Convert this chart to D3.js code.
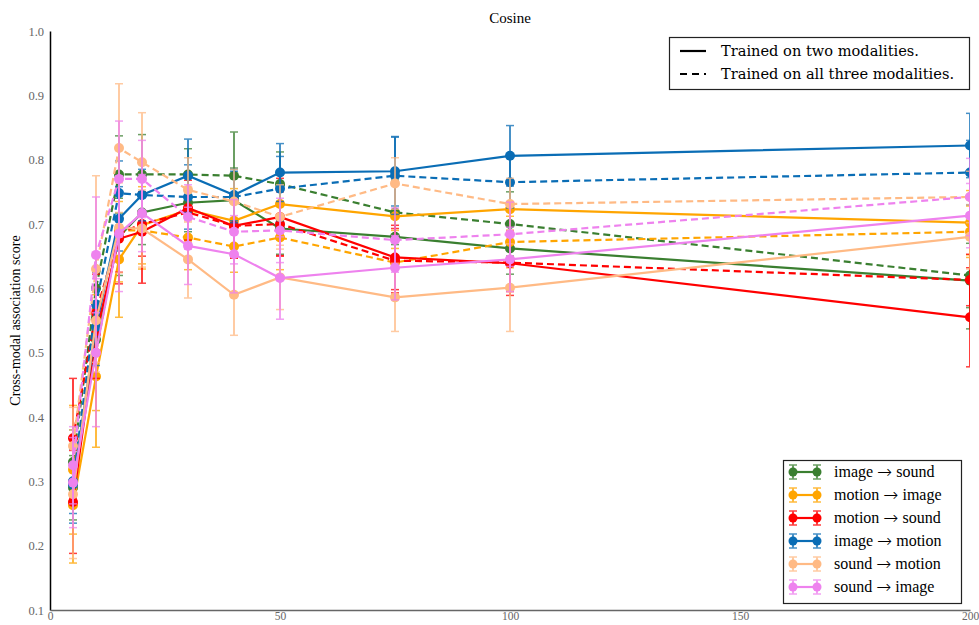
<!DOCTYPE html>
<html><head><meta charset="utf-8">
<script src="https://cdn.jsdelivr.net/npm/d3@7"></script>
<style>body{margin:0;background:#fff}svg{display:block}</style>
</head><body>
<svg id="c" width="979" height="625"></svg>
<script>
const xs = [5, 10, 15, 20, 30, 40, 50, 75, 100, 200];
const seriesFrom = ["image", "motion", "motion", "image", "sound", "sound"];
const seriesTo = ["sound", "image", "sound", "motion", "motion", "image"];
const seriesColors = ["#3a7f30", "#ffa500", "#ff0000", "#0a6db5", "#ffba85", "#ee82ee"];
// trained on two modalities (solid)
const imgSnd2 = [0.290, 0.520, 0.680, 0.718, 0.733, 0.737, 0.693, 0.680, 0.662, 0.612];
const motImg2 = [0.263, 0.463, 0.645, 0.698, 0.722, 0.705, 0.731, 0.712, 0.723, 0.702];
const motSnd2 = [0.268, 0.530, 0.677, 0.688, 0.725, 0.697, 0.711, 0.648, 0.639, 0.555];
const imgMot2 = [0.295, 0.540, 0.708, 0.745, 0.775, 0.745, 0.780, 0.782, 0.806, 0.822];
const sndMot2 = [0.280, 0.550, 0.694, 0.693, 0.645, 0.590, 0.617, 0.586, 0.601, 0.680];
const sndImg2 = [0.298, 0.500, 0.685, 0.717, 0.666, 0.653, 0.616, 0.632, 0.645, 0.713];
// trained on all three modalities (dashed)
const imgSnd3 = [0.330, 0.600, 0.777, 0.777, 0.777, 0.775, 0.762, 0.718, 0.700, 0.620];
const motImg3 = [0.318, 0.500, 0.690, 0.690, 0.679, 0.665, 0.679, 0.640, 0.672, 0.688];
const motSnd3 = [0.367, 0.562, 0.685, 0.700, 0.718, 0.697, 0.700, 0.643, 0.640, 0.613];
const imgMot3 = [0.300, 0.575, 0.748, 0.745, 0.742, 0.742, 0.755, 0.775, 0.765, 0.780];
const sndMot3 = [0.355, 0.630, 0.818, 0.796, 0.753, 0.735, 0.711, 0.763, 0.731, 0.742];
const sndImg3 = [0.325, 0.652, 0.770, 0.770, 0.711, 0.688, 0.690, 0.675, 0.684, 0.742];
// error bars (half-widths)
const imgSndE2 = [0.05, 0.06, 0.06, 0.05, 0.045, 0.05, 0.04, 0.04, 0.04, 0.075];
const motImgE2 = [0.09, 0.11, 0.09, 0.06, 0.05, 0.05, 0.045, 0.05, 0.04, 0.05];
const motSndE2 = [0.08, 0.07, 0.07, 0.08, 0.05, 0.05, 0.06, 0.05, 0.05, 0.077];
const imgMotE2 = [0.06, 0.06, 0.05, 0.04, 0.057, 0.04, 0.045, 0.054, 0.047, 0.05];
const sndMotE2 = [0.10, 0.08, 0.07, 0.06, 0.06, 0.063, 0.05, 0.053, 0.068, 0.05];
const sndImgE2 = [0.07, 0.115, 0.09, 0.06, 0.06, 0.06, 0.064, 0.05, 0.05, 0.05];
const imgSndE3 = [0.05, 0.05, 0.06, 0.062, 0.04, 0.068, 0.05, 0.05, 0.05, 0.05];
const motImgE3 = [0.10, 0.09, 0.08, 0.06, 0.05, 0.04, 0.05, 0.05, 0.04, 0.04];
const motSndE3 = [0.093, 0.06, 0.06, 0.05, 0.05, 0.05, 0.05, 0.05, 0.045, 0.04];
const imgMotE3 = [0.05, 0.05, 0.05, 0.05, 0.05, 0.04, 0.05, 0.06, 0.04, 0.05];
const sndMotE3 = [0.06, 0.145, 0.10, 0.077, 0.05, 0.05, 0.05, 0.04, 0.04, 0.04];
const sndImgE3 = [0.06, 0.09, 0.09, 0.06, 0.05, 0.05, 0.05, 0.05, 0.05, 0.06];
const xTicks = [0, 50, 100, 150, 200];
const yTicks = [0.1, 0.2, 0.3, 0.4, 0.5, 0.6, 0.7, 0.8, 0.9, 1.0];
const title = "Cosine";
const yLabel = "Cross-modal association score";
const styleLegend = ["Trained on two modalities.", "Trained on all three modalities."];

const two = [imgSnd2, motImg2, motSnd2, imgMot2, sndMot2, sndImg2];
const three = [imgSnd3, motImg3, motSnd3, imgMot3, sndMot3, sndImg3];
const twoE = [imgSndE2, motImgE2, motSndE2, imgMotE2, sndMotE2, sndImgE2];
const threeE = [imgSndE3, motImgE3, motSndE3, imgMotE3, sndMotE3, sndImgE3];

const svg = d3.select("#c");
const L = 50, R = 970, T = 31, B = 610;
const x = d3.scaleLinear().domain([0, 200]).range([L, R]);
const y = d3.scaleLinear().domain([0.1, 1.0]).range([B, T]);
const serif = "'Liberation Serif', 'DejaVu Serif', serif";

svg.append("defs").append("clipPath").attr("id", "clip")
  .append("rect").attr("x", L).attr("y", 0).attr("width", R - L).attr("height", B);

const plot = svg.append("g").attr("clip-path", "url(#clip)");

function drawSeries(vals, errs, color, dashed) {
  const pts = xs.map((xv, i) => ({x: xv, y: vals[i], e: errs[i]}));
  const g = plot.append("g");
  const eb = g.append("g").attr("opacity", 0.75).attr("stroke", color).attr("stroke-width", 2);
  pts.forEach(p => {
    const cx = x(p.x);
    eb.append("line").attr("x1", cx).attr("x2", cx).attr("y1", y(p.y - p.e)).attr("y2", y(p.y + p.e));
    [p.y - p.e, p.y + p.e].forEach(v => eb.append("line").attr("x1", cx - 4).attr("x2", cx + 4).attr("y1", y(v)).attr("y2", y(v)).attr("stroke-width", 1.5));
  });
  g.append("path").datum(pts)
    .attr("d", d3.line().x(d => x(d.x)).y(d => y(d.y)))
    .attr("fill", "none").attr("stroke", color).attr("stroke-width", 2.2)
    .attr("stroke-dasharray", dashed ? "7,4" : null);
  g.selectAll("circle").data(pts).join("circle")
    .attr("cx", d => x(d.x)).attr("cy", d => y(d.y)).attr("r", 5).attr("fill", color);
}
for (let s = 0; s < 6; s++) {
  drawSeries(two[s], twoE[s], seriesColors[s], false);
  drawSeries(three[s], threeE[s], seriesColors[s], true);
}

// axes
const yAxis = svg.append("g").attr("transform", `translate(${L},0)`)
  .call(d3.axisLeft(y).tickValues(yTicks).tickFormat(d3.format(".1f")).tickSize(0).tickPadding(6));
yAxis.select(".domain").attr("stroke", "#000").attr("stroke-width", 1.5);
yAxis.selectAll("text").attr("font-family", serif).attr("font-size", 12.5).attr("fill", "#666");
const xAxis = svg.append("g").attr("transform", `translate(0,${B})`)
  .call(d3.axisBottom(x).tickValues(xTicks).tickFormat(d3.format("d")).tickSize(0).tickPadding(2));
xAxis.select(".domain").attr("stroke", "#666").attr("stroke-width", 1.5);
xAxis.selectAll("text").attr("font-family", serif).attr("font-size", 11.5).attr("fill", "#666");

svg.append("text").attr("x", (L + R) / 2).attr("y", 23).attr("text-anchor", "middle")
  .attr("font-family", serif).attr("font-size", 15).text(title);
svg.append("text").attr("transform", `translate(20,${(T + B) / 2}) rotate(-90)`)
  .attr("text-anchor", "middle").attr("font-family", serif).attr("font-size", 14).text(yLabel);

// style legend
const lg1 = svg.append("g");
lg1.append("rect").attr("x", 669.5).attr("y", 37.5).attr("width", 300).attr("height", 52)
  .attr("fill", "#fff").attr("stroke", "#222").attr("stroke-width", 1.2);
styleLegend.forEach((t, i) => {
  const yy = 51 + i * 23;
  lg1.append("line").attr("x1", 680).attr("x2", 706).attr("y1", yy).attr("y2", yy)
    .attr("stroke", "#000").attr("stroke-width", 2.2).attr("stroke-dasharray", i ? "7,5" : null);
  lg1.append("text").attr("x", 721).attr("y", yy + 5).attr("font-family", "'DejaVu Serif', serif")
    .attr("font-size", 14.6).text(t);
});

// series legend
const lg2 = svg.append("g");
lg2.append("rect").attr("x", 783.5).attr("y", 460.5).attr("width", 178).attr("height", 143)
  .attr("fill", "#fff").attr("stroke", "#222").attr("stroke-width", 1.2);
seriesFrom.forEach((n, i) => {
  const yy = 472 + i * 23;
  const c = seriesColors[i];
  const g = lg2.append("g");
  g.append("line").attr("x1", 793).attr("x2", 817).attr("y1", yy).attr("y2", yy).attr("stroke", c).attr("stroke-width", 2.2);
  [793, 817].forEach(cx => {
    const eg = g.append("g").attr("stroke", c).attr("opacity", 0.75);
    eg.append("line").attr("x1", cx).attr("x2", cx).attr("y1", yy - 7).attr("y2", yy + 7).attr("stroke-width", 2);
    eg.append("line").attr("x1", cx - 4).attr("x2", cx + 4).attr("y1", yy - 7).attr("y2", yy - 7).attr("stroke-width", 1.5);
    eg.append("line").attr("x1", cx - 4).attr("x2", cx + 4).attr("y1", yy + 7).attr("y2", yy + 7).attr("stroke-width", 1.5);
    g.append("circle").attr("cx", cx).attr("cy", yy).attr("r", 4.5).attr("fill", c);
  });
  const t = g.append("text").attr("x", 834).attr("y", yy + 5).attr("font-family", serif).attr("font-size", 16);
  t.append("tspan").text(n + " ");
  t.append("tspan").attr("font-family", "'DejaVu Sans', sans-serif").attr("font-size", 18).attr("font-weight", 300).attr("dy", 1).text("\u2192");
  t.append("tspan").attr("dy", -1).text(" " + seriesTo[i]);
});
</script>
</body></html>
